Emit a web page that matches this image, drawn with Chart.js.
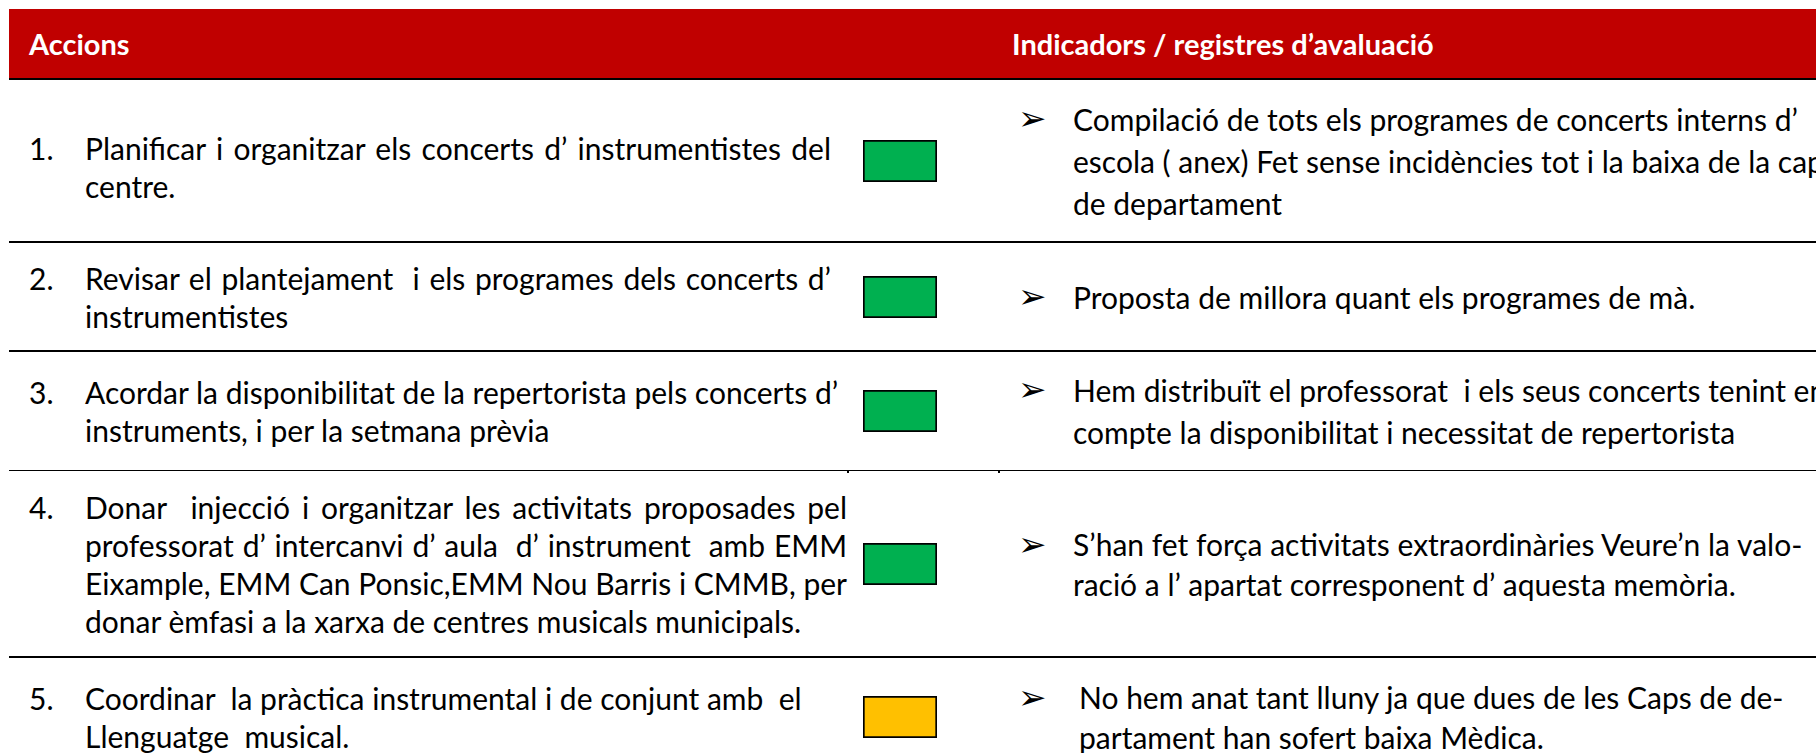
<!DOCTYPE html>
<html>
<head>
    <script src="https://cdn.jsdelivr.net/npm/chart.js@4.4.0/dist/chart.umd.min.js"></script>
    <style>
        html, body {
            margin: 0;
            padding: 0;
            background: #ffffff;
            overflow: hidden;
            width: 1816px;
            height: 753px;
        }
        body {
            font-family: Lato, "Noto Sans", sans-serif;
            color: #000;
        }
        #taula {
            position: absolute;
            left: 9px;
            top: 9px;
            right: 0;
        }
        .fila {
            display: grid;
            grid-template-columns: 840px 152px 1fr;
            align-items: center;
            border-bottom: 2px solid #000;
            box-sizing: border-box;
            position: relative;
        }
        .capcalera {
            background: #c00000;
            height: 71px;
            color: #fff;
            font-weight: bold;
            font-size: 29px;
        }
        .capcalera .c1 { padding-left: 20px; }
        .capcalera .c3 { padding-left: 11px; }
        .accio {
            display: flex;
            padding-left: 20px;
            padding-right: 18px;
            font-size: 30px;
            line-height: 38px;
            white-space: nowrap;
        }
        .accio .num { width: 56px; flex: none; }
        .accio .txt { flex: 1; }
        .accio .txt div.j { text-align: justify; text-align-last: justify; }
        .estat { position: relative; height: 100%; }
        .caixa {
            position: absolute;
            left: 14px;
            top: 50%;
            width: 74px;
            height: 42px;
            transform: translateY(-50%);
        }
        .indicador {
            display: flex;
            padding-left: 17px;
            font-size: 30px;
            line-height: 42px;
            white-space: nowrap;
        }
        .indicador .bala {
            width: 55px;
            flex: none;
            font-family: "DejaVu Sans", sans-serif;
            font-size: 34px;
            line-height: 40px;
        }
        .marca {
            position: absolute;
            width: 2px;
            height: 3px;
            bottom: -3px;
            background: #000;
        }
    </style>
</head>
<body>
    <div id="taula"></div>

    <script>
        // Columnes de la taula
        const capcaleres = ['Accions', 'Indicadors / registres d’avaluació'];

        // Accions (salts de línia com a l'original)
        const accions = [
            'Planificar i organitzar els concerts d’ instrumentistes del\ncentre.',
            'Revisar el plantejament  i els programes dels concerts d’\ninstrumentistes',
            'Acordar la disponibilitat de la repertorista pels concerts d’\ninstruments, i per la setmana prèvia',
            'Donar  injecció i organitzar les activitats proposades pel\nprofessorat d’ intercanvi d’ aula  d’ instrument  amb EMM\nEixample, EMM Can Ponsic,EMM Nou Barris i CMMB, per\ndonar èmfasi a la xarxa de centres musicals municipals.',
            'Coordinar  la pràctica instrumental i de conjunt amb  el\nLlenguatge  musical.'
        ];

        // Indicadors / registres d'avaluació
        const indicadors = [
            'Compilació de tots els programes de concerts interns d’\nescola ( anex) Fet sense incidències tot i la baixa de la cap\nde departament',
            'Proposta de millora quant els programes de mà.',
            'Hem distribuït el professorat  i els seus concerts tenint en\ncompte la disponibilitat i necessitat de repertorista',
            'S’han fet força activitats extraordinàries Veure’n la valo-\nració a l’ apartat corresponent d’ aquesta memòria.',
            'No hem anat tant lluny ja que dues de les Caps de de-\npartament han sofert baixa Mèdica.'
        ];

        // Estat de cada acció (semàfor)
        const estats = ['assolit', 'assolit', 'assolit', 'assolit', 'parcial'];
        const colorsEstat = { assolit: '#00b050', parcial: '#ffc000' };

        // alçades de les files i ajustos (només maquetació)
        const alcades = [163, 109, 120, 187, 120];
        const justificar = [true, true, true, true, false];

        const taula = document.getElementById('taula');
        const dobleEspai = s => s.replace(/  /g, ' \u00a0');

        const cap = document.createElement('div');
        cap.className = 'fila capcalera';
        cap.innerHTML = '<div class="c1">' + capcaleres[0] + '</div><div></div><div class="c3">' + capcaleres[1] + '</div>';
        taula.appendChild(cap);

        accions.forEach((accio, i) => {
            const fila = document.createElement('div');
            fila.className = 'fila';
            fila.style.height = alcades[i] + 'px';
            if (i === 2) {
                fila.style.borderBottomWidth = '1px';
                fila.style.height = (alcades[i] - 1) + 'px';
                fila.innerHTML = '<div class="marca" style="left:838px"></div><div class="marca" style="left:989px"></div>';
            }

            const c1 = document.createElement('div');
            c1.className = 'accio';
            if (i === 0) c1.style.paddingTop = '12px';
            const linies = accio.split('\n');
            c1.innerHTML = '<div class="num">' + (i + 1) + '.</div><div class="txt">' +
                linies.map((l, k) => '<div' + (justificar[i] && k < linies.length - 1 ? ' class="j"' : '') + '>' + dobleEspai(l) + '</div>').join('') +
                '</div>';

            const c2 = document.createElement('div');
            c2.className = 'estat';
            const caixa = document.createElement('div');
            caixa.className = 'caixa';
            const canvas = document.createElement('canvas');
            caixa.appendChild(canvas);
            c2.appendChild(caixa);

            const c3 = document.createElement('div');
            c3.className = 'indicador';
            if (i === 3 || i === 4) c3.style.lineHeight = '40px';
            c3.innerHTML = '<div class="bala"' + (i === 4 ? ' style="width:61px"' : '') + '>➢</div><div>' +
                indicadors[i].split('\n').map(l => '<div>' + dobleEspai(l) + '</div>').join('') + '</div>';

            fila.appendChild(c1);
            fila.appendChild(c2);
            fila.appendChild(c3);
            taula.appendChild(fila);

            // Quadre de color de l'estat
            new Chart(canvas, {
                type: 'bar',
                data: {
                    labels: [estats[i]],
                    datasets: [{
                        data: [1],
                        backgroundColor: colorsEstat[estats[i]],
                        borderColor: '#000000',
                        borderWidth: 2,
                        borderSkipped: false,
                        barPercentage: 1,
                        categoryPercentage: 1
                    }]
                },
                options: {
                    indexAxis: 'y',
                    responsive: true,
                    maintainAspectRatio: false,
                    animation: false,
                    layout: { padding: 0 },
                    scales: {
                        x: { display: false, min: 0, max: 1 },
                        y: { display: false }
                    },
                    plugins: {
                        legend: { display: false },
                        tooltip: { enabled: false }
                    }
                }
            });
        });
    </script>
</body>
</html>
